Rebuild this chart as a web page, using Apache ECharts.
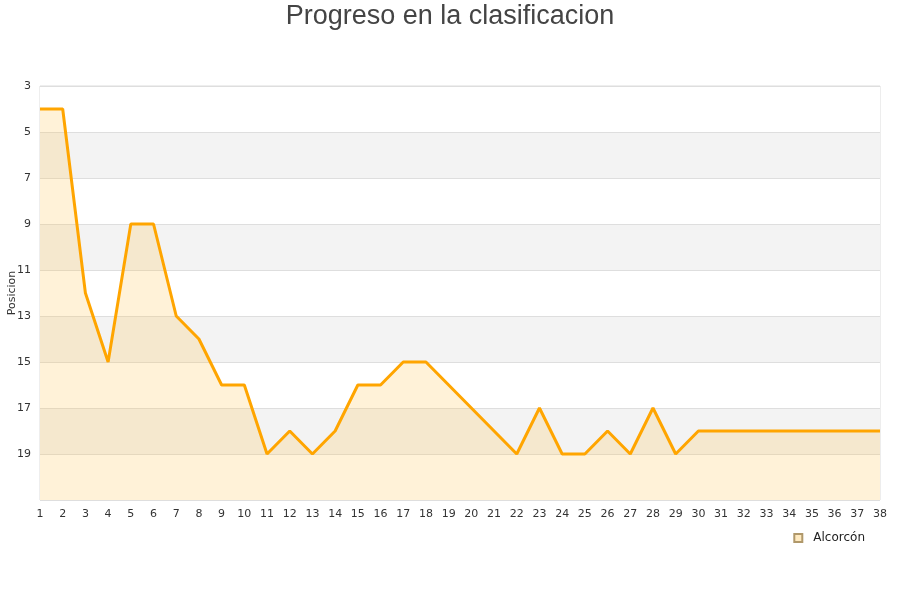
<!DOCTYPE html>
<html><head><meta charset="utf-8">
<script src="https://cdn.jsdelivr.net/npm/echarts@6/dist/echarts.min.js"></script>
<style>html,body{margin:0;padding:0;background:#fff}#c{width:900px;height:600px}</style>
</head><body><div id="c"></div>
<script>
var jornadas = ['1','2','3','4','5','6','7','8','9','10','11','12','13','14','15','16','17','18','19','20','21','22','23','24','25','26','27','28','29','30','31','32','33','34','35','36','37','38'];
var posiciones = [4,4,12,15,9,9,13,14,16,16,19,18,19,18,16,16,15,15,16,17,18,19,17,19,19,18,19,17,19,18,18,18,18,18,18,18,18,18];
var seriesName = 'Alcorcón';
var chart = echarts.init(document.getElementById('c'), null, {renderer:'canvas'});
chart.setOption({
  animation:false,
  backgroundColor:'#fff',
  title:{text:'Progreso en la clasificacion',left:'center',top:-2,textStyle:{fontFamily:'Liberation Sans',fontSize:27,fontWeight:'normal',color:'#444'}},
  grid:{left:40,right:20,top:86,bottom:100,containLabel:false,outerBoundsMode:'none',show:true,borderColor:'#dcdcdc',borderWidth:1},
  legend:{data:[{name:seriesName,icon:'rect'}],right:30,top:527,itemWidth:8,itemHeight:8,itemGap:10,textStyle:{fontFamily:'DejaVu Sans',fontSize:12,color:'#222',padding:[0,0,0,6]}},
  xAxis:{type:'category',data:jornadas,boundaryGap:false,
    axisLine:{show:false},axisTick:{show:false},
    axisLabel:{fontFamily:'DejaVu Sans',fontSize:11,color:'#333',margin:9,interval:0},
    splitLine:{show:false}},
  yAxis:{type:'value',inverse:true,min:3,max:21,interval:2,
    name:'Posicion',nameLocation:'middle',nameGap:22,nameRotate:90,nameMoveOverlap:false,
    nameTextStyle:{fontFamily:'DejaVu Sans',fontSize:11,color:'#333'},
    axisLine:{show:false},axisTick:{show:false},
    axisLabel:{fontFamily:'DejaVu Sans',fontSize:11,color:'#333',margin:9,formatter:function(v){return v===21?'':String(v);}},
    splitLine:{show:true,lineStyle:{color:'#dedede'}},
    splitArea:{show:true,areaStyle:{color:['#ffffff','#f3f3f3']}}},
  series:[{name:seriesName,type:'line',data:posiciones,showSymbol:false,symbol:'none',
    lineStyle:{color:'#ffa500',width:3},
    itemStyle:{color:'rgba(255,220,150,0.6)',borderColor:'#b0986a',borderWidth:1},
    areaStyle:{color:'rgba(255,192,72,0.3)',origin:'end'}}]
});
</script></body></html>
